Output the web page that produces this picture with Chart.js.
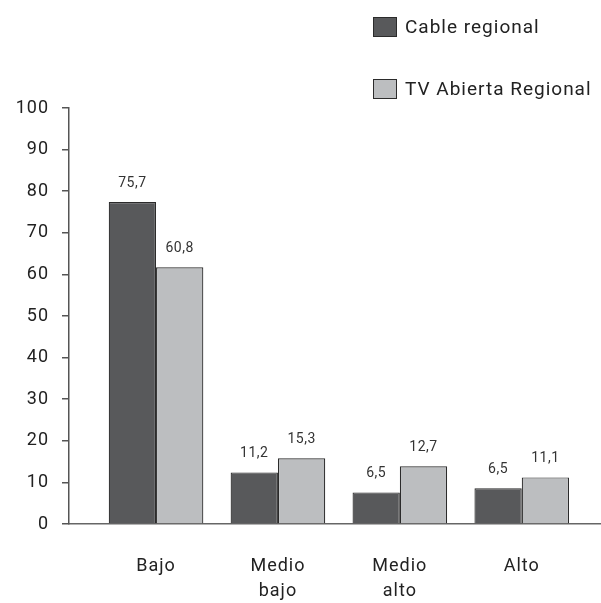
<!DOCTYPE html>
<html>
<head>
<meta charset="utf-8">
<script src="https://cdn.jsdelivr.net/npm/chart.js@4"></script>
<style>
	html, body { margin: 0; padding: 0; background: #fff; }
	#wrap { position: relative; width: 601px; height: 603px; }
	#legend { position: absolute; left: 373px; top: 15px; font-family: Roboto, sans-serif; font-size: 19px; color: #222; }
	.item { display: flex; align-items: center; height: 23px; margin-bottom: 39px; letter-spacing: 1px; }
	.box { width: 22px; height: 18px; border: 1px solid #2b2b2b; margin-right: 8px; }
</style>
</head>
<body>
<div id="wrap">
	<canvas id="chart" width="601" height="603"></canvas>
	<div id="legend"></div>
</div>
<script>
const categories = [['Bajo'], ['Medio', 'bajo'], ['Medio', 'alto'], ['Alto']];
const seriesNames = ['Cable regional', 'TV Abierta Regional'];
// bar heights as drawn in the picture
const cableValues = [77.4, 12.4, 7.6, 8.6];
const tvValues = [61.7, 15.8, 13.9, 11.2];
// numbers printed above the bars
const cableLabels = ['75,7', '11,2', '6,5', '6,5'];
const tvLabels = ['60,8', '15,3', '12,7', '11,1'];
const colors = ['#58595b', '#bcbec0'];

const ctx = document.getElementById('chart').getContext('2d');

// legend
const legend = document.getElementById('legend');
seriesNames.forEach(function (name, i) {
	let item = document.createElement('div');
	item.className = 'item';
	let box = document.createElement('span');
	box.className = 'box';
	box.style.background = colors[i];
	let txt = document.createElement('span');
	txt.innerText = name;
	item.appendChild(box);
	item.appendChild(txt);
	legend.appendChild(item);
});

// numbers above bars + wider text spacing
const valueLabels = {
	id: 'valueLabels',
	beforeDraw(chart) {
		chart.ctx.letterSpacing = '1px';
	},
	afterDatasetsDraw(chart) {
		const c = chart.ctx;
		const texts = [cableLabels, tvLabels];
		c.save();
		c.letterSpacing = '0.5px';
		c.font = '14px Roboto';
		c.fillStyle = '#333';
		c.textAlign = 'center';
		c.textBaseline = 'bottom';
		chart.data.datasets.forEach(function (ds, d) {
			chart.getDatasetMeta(d).data.forEach(function (bar, i) {
				c.fillText(texts[d][i], bar.x, bar.y - 12);
			});
		});
		c.restore();
	},
	afterDraw(chart) {
		chart.ctx.letterSpacing = '0px';
	},
};

Chart.defaults.font.family = 'Roboto';
Chart.defaults.color = '#222';

new Chart(ctx, {
	type: 'bar',
	data: {
		datasets: [
			{
				label: seriesNames[0],
				data: cableValues.map((v, i) => ({ x: i, y: v })),
				backgroundColor: colors[0],
				borderColor: '#2b2b2b',
				borderWidth: 1.2,
			},
			{
				label: seriesNames[1],
				data: tvValues.map((v, i) => ({ x: i, y: v })),
				backgroundColor: colors[1],
				borderColor: '#2b2b2b',
				borderWidth: 1.2,
			},
		],
	},
	options: {
		responsive: false,
		animation: false,
		categoryPercentage: 0.776,
		barPercentage: 1.0,
		layout: { padding: { top: 108, right: 1, left: 0, bottom: 0 } },
		plugins: {
			legend: { display: false },
			tooltip: { enabled: false },
		},
		scales: {
			x: {
				type: 'linear',
				offset: false,
				min: -0.714,
				max: 3.642,
				afterFit: function (s) { s.height = 79; },
				afterBuildTicks: function (s) {
					s.ticks = categories.map((c, i) => ({ value: i }));
				},
				grid: { display: false },
				border: { color: '#666', width: 1.5 },
				ticks: {
					padding: 22,
					font: { size: 18, lineHeight: 1.4 },
					color: '#222',
					callback: function (v) { return categories[v] || ''; },
				},
			},
			y: {
				min: 0,
				max: 100,
				afterFit: function (s) { s.width = 69; },
				grid: { drawOnChartArea: false, drawTicks: true, tickLength: 7, color: '#555', lineWidth: 1.5 },
				border: { color: '#555', width: 1.5 },
				ticks: {
					stepSize: 10,
					padding: 13,
					font: { size: 18 },
					color: '#222',
				},
			},
		},
	},
	plugins: [valueLabels],
});
</script>
</body>
</html>
